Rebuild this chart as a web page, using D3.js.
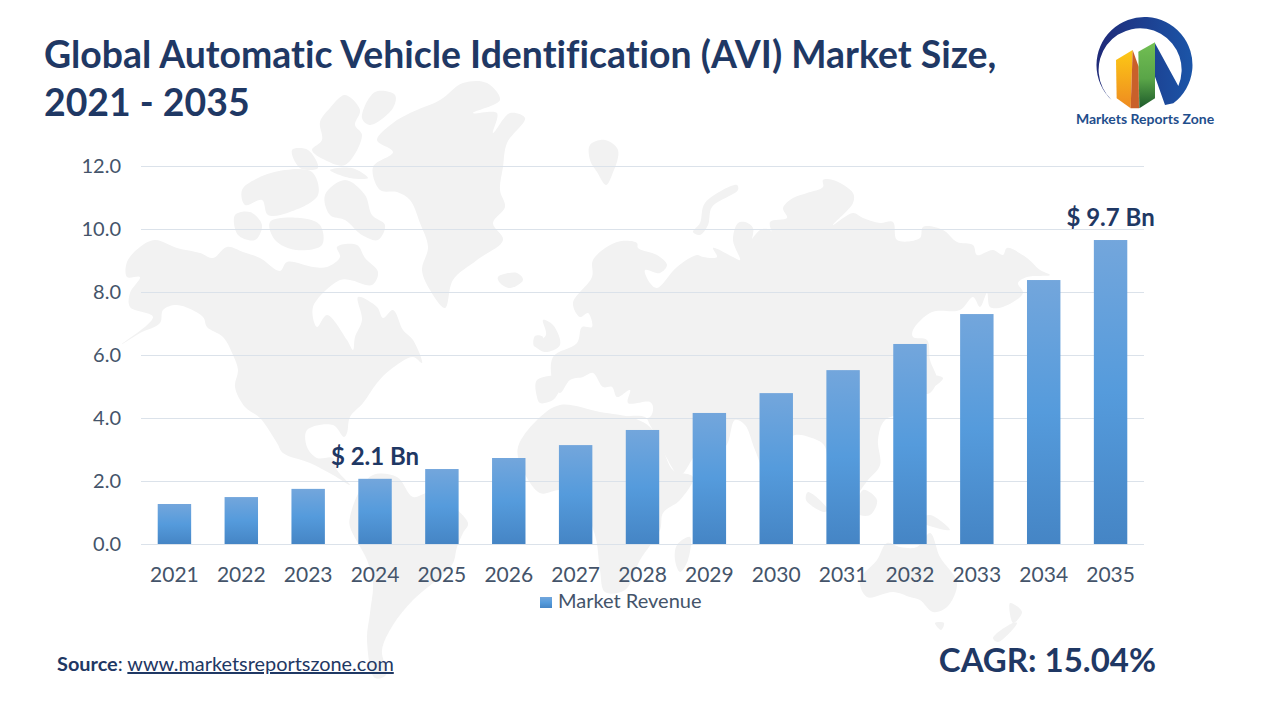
<!DOCTYPE html>
<html>
<head>
<meta charset="utf-8">
<title>Global Automatic Vehicle Identification (AVI) Market Size</title>
<script src="https://cdn.jsdelivr.net/npm/d3@7"></script>
<style>
    html, body { margin: 0; padding: 0; background: #fff; }
    svg { display: block; font-family: Lato, "Open Sans", sans-serif; font-variant-ligatures: none; }
    .domain { display: none; }
    .tick line { stroke: #dbe2ea; }
    .tick text { fill: #44546a; font-family: Lato, "Open Sans", sans-serif; }
</style>
</head>
<body>
<svg id="wrapper" width="1280" height="720"></svg>
<script>

var years = ['2021','2022','2023','2024','2025','2026','2027','2028','2029','2030','2031','2032','2033','2034','2035']
var revenue = [1.27,1.49,1.75,2.07,2.38,2.73,3.14,3.62,4.16,4.79,5.52,6.35,7.30,8.38,9.65]
var yTicks = [0,2,4,6,8,10,12]
var callouts = [{year:'2024', value:2.07, text:'$ 2.1 Bn'}, {year:'2035', value:9.65, text:'$ 9.7 Bn'}]

// background map outlines
var worldMap = [
    // north america
    [[127,262],[140,247],[155,240],[177,248],[200,253],[213,258],[227,247],[243,252],[260,258],[280,271],[287,262],[313,267],[327,267],[340,257],[337,247],[357,245],[365,258],[378,272],[372,285],[350,280],[340,280],[313,307],[317,327],[327,315],[347,340],[353,350],[355,337],[362,320],[358,297],[377,307],[383,318],[393,310],[403,330],[413,340],[422,363],[413,357],[390,370],[377,383],[363,403],[350,417],[347,433],[344,437],[333,425],[307,430],[307,447],[317,458],[333,458],[337,470],[350,485],[333,475],[310,463],[283,453],[277,443],[260,418],[245,407],[235,387],[238,370],[233,355],[223,337],[207,327],[203,317],[177,305],[163,310],[160,323],[140,333],[122,344],[153,317],[130,307],[130,293],[140,277],[127,277]],
    // greenland
    [[377,140],[393,123],[410,113],[440,100],[463,83],[487,83],[500,100],[473,113],[497,113],[493,133],[510,113],[525,118],[507,143],[503,167],[500,190],[505,207],[493,223],[503,240],[477,260],[453,280],[445,308],[430,290],[422,270],[428,247],[420,223],[410,200],[397,192],[380,190],[373,167],[393,152]],
    // arctic islands
    [[320,122],[330,108],[345,95],[360,110],[355,125],[362,135],[345,165],[325,160],[312,150],[322,140]],
    [[375,92],[395,95],[393,108],[370,125],[362,118]],
    [[242,190],[258,178],[285,170],[312,172],[318,195],[290,212],[268,215],[262,200],[245,205]],
    [[235,215],[250,212],[262,225],[255,240],[238,235]],
    [[325,195],[345,180],[365,195],[372,215],[385,225],[378,240],[362,235],[345,220],[330,215]],
    [[270,222],[300,218],[320,225],[322,245],[296,250],[275,240]],
    [[292,150],[308,150],[318,168],[300,168]],
    [[330,170],[352,168],[368,178],[350,178]],
    [[590,145],[605,140],[618,150],[612,175],[606,185],[597,172],[590,160]],
    [[737,185],[705,203],[700,223],[693,232],[700,235],[708,225],[712,207],[738,190]],
    // iceland, uk, ireland
    [[498,277],[517,273],[523,280],[510,288],[500,283]],
    [[543,320],[553,325],[560,345],[545,352],[535,345],[546,335]],
    [[535,336],[543,337],[541,347],[534,346]],
    // iberia
    [[537,380],[567,377],[560,390],[553,400],[540,403],[537,397]],
    // eurasia
    [[593,260],[617,242],[637,243],[638,248],[657,255],[667,265],[660,273],[645,270],[650,283],[657,288],[677,267],[697,255],[703,257],[717,257],[713,248],[733,257],[740,260],[733,240],[738,223],[745,222],[753,228],[751,247],[755,257],[752,268],[738,270],[760,230],[770,230],[777,243],[770,222],[787,218],[783,208],[793,198],[807,193],[823,187],[823,180],[833,180],[853,193],[853,203],[833,225],[853,213],[863,218],[880,223],[893,222],[897,240],[920,238],[923,227],[943,230],[957,242],[973,245],[977,255],[993,250],[1003,255],[1007,248],[1027,258],[1040,270],[1050,275],[1027,277],[1018,283],[1023,293],[1003,307],[990,307],[987,293],[980,307],[973,297],[960,310],[932,312],[913,330],[913,337],[927,340],[930,360],[937,380],[930,393],[923,395],[915,410],[885,420],[878,440],[880,465],[868,480],[850,500],[838,480],[830,470],[824,445],[812,438],[795,435],[782,445],[770,482],[755,450],[745,425],[735,420],[725,447],[700,450],[680,475],[665,455],[650,425],[645,417],[620,417],[650,417],[653,407],[650,402],[628,403],[630,390],[617,397],[612,387],[603,387],[593,373],[583,377],[570,380],[560,393],[553,383],[553,357],[577,343],[582,327],[592,327],[588,313],[580,317],[573,303],[592,277]],
    // africa
    [[537,420],[560,405],[600,412],[633,418],[650,427],[663,450],[673,470],[693,477],[680,500],[663,513],[660,530],[640,560],[625,590],[605,592],[600,570],[595,535],[577,497],[560,490],[540,493],[520,463],[518,447]],
    // south america
    [[350,517],[360,490],[373,475],[397,477],[413,497],[430,493],[468,523],[463,533],[457,547],[453,563],[440,577],[413,600],[393,625],[382,650],[386,675],[375,678],[367,640],[370,613],[373,583],[367,560],[350,527]],
    // islands of asia and the pacific
    [[677,545],[690,537],[688,560],[680,572],[675,560]],
    [[808,492],[828,510],[824,512],[806,500]],
    [[863,490],[877,500],[870,515],[857,513]],
    [[873,460],[877,462],[875,470],[871,467]],
    [[930,515],[950,530],[933,527],[917,520]],
    [[915,360],[920,372],[943,378],[922,394],[912,398],[925,380]],
    // australia, tasmania, new zealand
    [[860,580],[877,560],[887,543],[900,547],[917,547],[930,533],[940,557],[957,583],[947,607],[933,612],[920,600],[910,597],[893,592],[867,597]],
    [[935,623],[944,623],[941,630]],
    [[1010,603],[1022,612],[1013,623]],
    [[1013,623],[993,638],[998,642],[1017,623]]
]

var svg = d3.select('#wrapper')

var defs = svg.append('defs')

var barGradient = defs.append('linearGradient')
                    .attr('id', 'barFill')
                    .attr('x1', 0).attr('y1', 0)
                    .attr('x2', 0).attr('y2', 1)
barGradient.append('stop').attr('offset', '0%').attr('stop-color', '#73a6dc')
barGradient.append('stop').attr('offset', '50%').attr('stop-color', '#559bdc')
barGradient.append('stop').attr('offset', '100%').attr('stop-color', '#4585c5')

var yellowFill = defs.append('linearGradient').attr('id', 'yellowFill').attr('x1', 0).attr('y1', 0).attr('x2', 0).attr('y2', 1)
yellowFill.append('stop').attr('offset', '0%').attr('stop-color', '#fdc915')
yellowFill.append('stop').attr('offset', '100%').attr('stop-color', '#ee8a21')
var greenFill = defs.append('linearGradient').attr('id', 'greenFill').attr('x1', 0).attr('y1', 0).attr('x2', 0).attr('y2', 1)
greenFill.append('stop').attr('offset', '0%').attr('stop-color', '#72bf53')
greenFill.append('stop').attr('offset', '55%').attr('stop-color', '#5aa548')
greenFill.append('stop').attr('offset', '100%').attr('stop-color', '#1d5a2b')
var ringFill = defs.append('linearGradient').attr('id', 'ringFill').attr('x1', 0).attr('y1', 0).attr('x2', 1).attr('y2', 0)
ringFill.append('stop').attr('offset', '0%').attr('stop-color', '#1f2a78')
ringFill.append('stop').attr('offset', '100%').attr('stop-color', '#1b55a8')

// map goes first so grid and bars sit on top of it
var mapLine = d3.line().curve(d3.curveCatmullRomClosed.alpha(0.5))
svg.append('g')
    .selectAll('path')
    .data(worldMap)
    .join('path')
    .attr('d', d => mapLine(d))
    .attr('fill', '#f2f2f2')

var xScale = d3.scaleBand()
                .domain(years)
                .range([141, 1144])
                .paddingInner(0.5)
                .paddingOuter(0.25)

var yScale = d3.scaleLinear()
                .domain([0, 12])
                .range([544, 166])

var yAxis = d3.axisLeft(yScale)
                .tickValues(yTicks)
                .tickSize(-1003)
                .tickPadding(20)
                .tickFormat(d3.format('.1f'))

svg.append('g')
    .attr('transform', 'translate(141,0)')
    .call(yAxis)
    .selectAll('text')
    .style('font-size', '20px')

var xAxis = d3.axisBottom(xScale)
                .tickSize(0)
                .tickPadding(23)

svg.append('g')
    .attr('transform', 'translate(0,544)')
    .call(xAxis)
    .selectAll('text')
    .style('font-size', '21px')

svg.selectAll('.bar')
    .data(years)
    .join('rect')
    .classed('bar', true)
    .attr('x', d => xScale(d))
    .attr('y', (d, i) => yScale(revenue[i]))
    .attr('width', xScale.bandwidth())
    .attr('height', (d, i) => yScale(0) - yScale(revenue[i]))
    .attr('fill', 'url(#barFill)')

svg.selectAll('.callout')
    .data(callouts)
    .join('text')
    .classed('callout', true)
    .attr('x', d => xScale(d.year) + xScale.bandwidth() / 2)
    .attr('y', d => yScale(d.value) - 14)
    .attr('text-anchor', 'middle')
    .attr('fill', '#1f3864')
    .style('font-size', '24px')
    .style('font-weight', 700)
    .text(d => d.text)

// legend
svg.append('rect')
    .attr('x', 540).attr('y', 597)
    .attr('width', 12).attr('height', 11)
    .attr('fill', 'url(#barFill)')
svg.append('text')
    .attr('x', 558).attr('y', 608)
    .attr('fill', '#44546a')
    .style('font-size', '20px')
    .text('Market Revenue')

// title
var titleLines = ['Global Automatic Vehicle Identification (AVI) Market Size,', '2021 - 2035']
svg.selectAll('.title')
    .data(titleLines)
    .join('text')
    .classed('title', true)
    .attr('x', 44)
    .attr('y', (d, i) => 68 + i * 48)
    .attr('fill', '#1f3864')
    .style('font-size', '37.4px')
    .style('font-weight', 700)
    .text(d => d)

// source and cagr
var source = svg.append('text')
    .attr('x', 57).attr('y', 671)
    .attr('fill', '#1f3864')
    .style('font-size', '19.9px')
source.append('tspan').style('font-weight', 700).text('Source')
source.append('tspan').text(': ')
source.append('tspan').attr('text-decoration', 'underline').text('www.marketsreportszone.com')

svg.append('text')
    .attr('x', 1156).attr('y', 672)
    .attr('text-anchor', 'end')
    .attr('fill', '#1f3864')
    .style('font-size', '33px')
    .style('font-weight', 700)
    .text('CAGR: 15.04%')

// logo, points are taken from a 3x crop of the picture
var logoPoint = p => [1060 + p[0] / 3, 10 + p[1] / 3]
var logoLine = d3.line().curve(d3.curveLinearClosed)
var ringPath = 'M' + logoPoint([155,270]) + 'A48 48 0 1 1 ' + logoPoint([340,280])
             + 'L' + logoPoint([315,285]) + 'L' + logoPoint([285,200]) + 'L' + logoPoint([285,100])
             + 'L' + logoPoint([355,228]) + 'A41.5 41.5 0 1 0 ' + logoPoint([155,270]) + 'Z'
svg.append('path').attr('d', ringPath).attr('fill', 'url(#ringFill)')

var logoShapes = [
    {fill:'url(#yellowFill)', points:[[168,150],[218,120],[212,295],[170,265]]},
    {fill:'#c9602a', points:[[218,120],[236,170],[237,295],[212,295]]},
    {fill:'url(#greenFill)', points:[[235,125],[285,97],[285,265],[238,295]]}
]
svg.append('g')
    .selectAll('path')
    .data(logoShapes)
    .join('path')
    .attr('d', d => logoLine(d.points.map(logoPoint)))
    .attr('fill', d => d.fill)

svg.append('text')
    .attr('x', 1145).attr('y', 124)
    .attr('text-anchor', 'middle')
    .attr('fill', '#1f4e8c')
    .style('font-size', '14px')
    .style('font-weight', 700)
    .text('Markets Reports Zone')

</script>
</body>
</html>
